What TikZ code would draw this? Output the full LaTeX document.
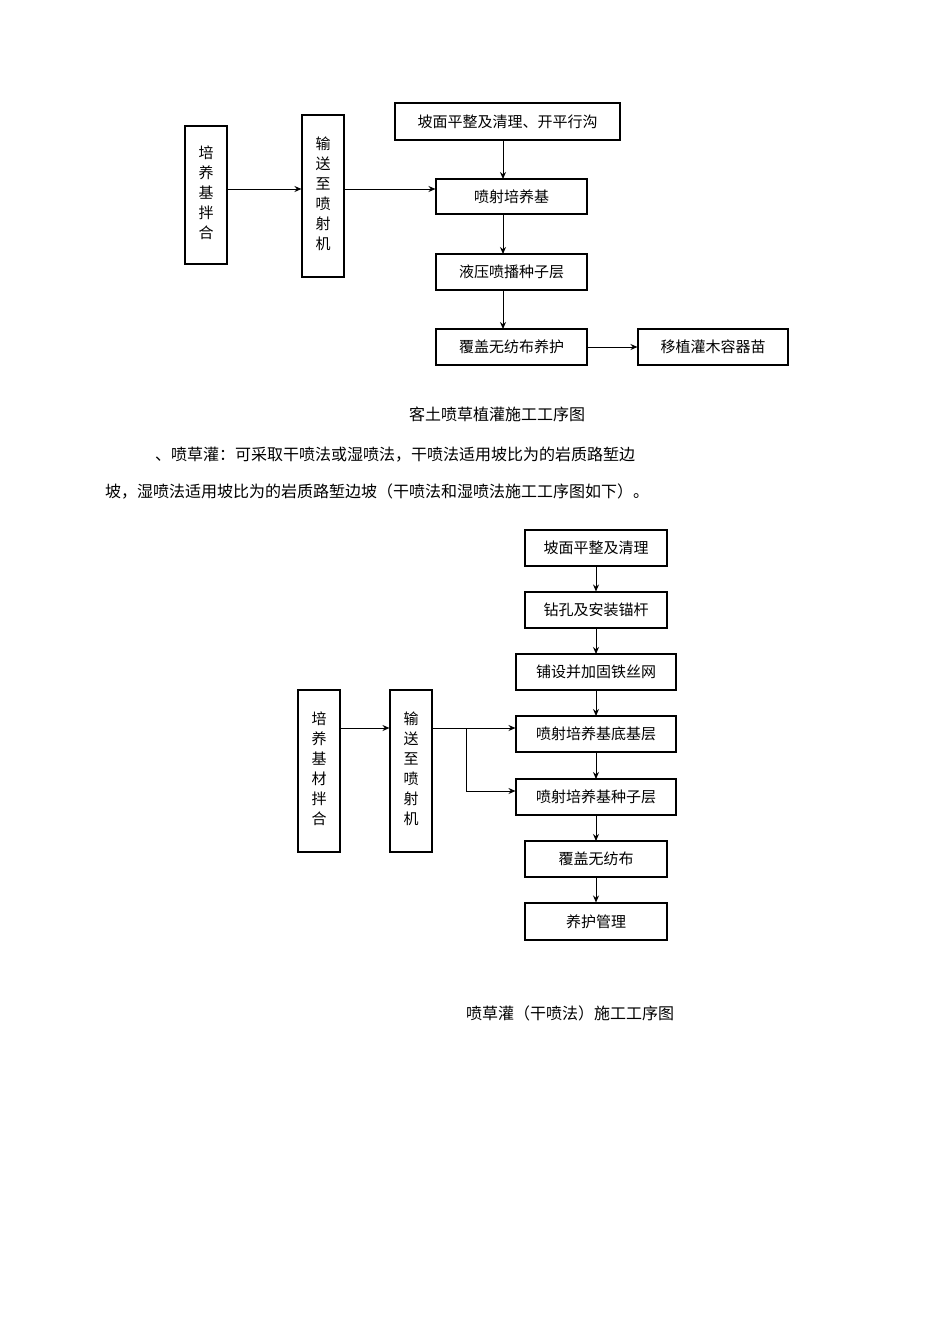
\documentclass[tikz,border=0pt]{standalone}
\usepackage{fontspec}
\setmainfont{Noto Sans CJK SC}
\usetikzlibrary{arrows.meta}
\begin{document}
\begin{tikzpicture}[x=1pt,y=-1pt,
 bx/.style={draw,line width=1.1pt,inner sep=0pt,font=\fontsize{15}{18}\selectfont},
 ar/.style={-{Stealth[length=7pt,width=6pt]},line width=1pt},
 txt/.style={font=\fontsize{16}{19}\selectfont,inner sep=0pt,anchor=west}]
\useasboundingbox[fill=white] (0,0) rectangle (950,1344);
\newcommand{\bxn}[6]{\node[bx,minimum width=#4-#2,minimum height=#5-#3] (#1) at ({(#2+#4)/2},{(#3+#5)/2}) {#6};}
\newcommand{\vt}[1]{\shortstack{#1}}
% top
\bxn{a1}{185}{126}{227}{264}{\begin{tabular}{@{}c@{}}培\\[2pt]养\\[2pt]基\\[2pt]拌\\[2pt]合\end{tabular}}
\bxn{a2}{302}{115}{344}{277}{\begin{tabular}{@{}c@{}}输\\[2pt]送\\[2pt]至\\[2pt]喷\\[2pt]射\\[2pt]机\end{tabular}}
\bxn{b1}{395}{103}{620}{140}{坡面平整及清理、开平行沟}
\bxn{b2}{436}{179}{587}{214}{喷射培养基}
\bxn{b3}{436}{254}{587}{290}{液压喷播种子层}
\bxn{b4}{436}{329}{587}{365}{覆盖无纺布养护}
\bxn{b5}{638}{329}{788}{365}{移植灌木容器苗}
\draw[ar] (a1.east|-0,189) -- (a2.west|-0,189);
\draw[ar] (a2.east|-0,189) -- (b2.west|-0,189);
\draw[ar] (503,140) -- (503,179);
\draw[ar] (503,214) -- (503,254);
\draw[ar] (503,290) -- (503,329);
\draw[ar] (b4) -- (b5);
\node[font=\fontsize{16}{19}\selectfont] (c1) at (497,414) {客土喷草植灌施工工序图};
\node[txt] (p1) at (155,455) {、喷草灌：可采取干喷法或湿喷法，干喷法适用坡比为的岩质路堑边};
\node[txt] (p2) at (105,492) {坡，湿喷法适用坡比为的岩质路堑边坡（干喷法和湿喷法施工工序图如下）。};
% bottom
\bxn{d1}{525}{530}{667}{566}{坡面平整及清理}
\bxn{d2}{525}{592}{667}{628}{钻孔及安装锚杆}
\bxn{d3}{516}{654}{676}{690}{铺设并加固铁丝网}
\bxn{d4}{516}{716}{676}{752}{喷射培养基底基层}
\bxn{d5}{516}{779}{676}{815}{喷射培养基种子层}
\bxn{d6}{525}{841}{667}{877}{覆盖无纺布}
\bxn{d7}{525}{903}{667}{940}{养护管理}
\bxn{e1}{298}{690}{340}{852}{\begin{tabular}{@{}c@{}}培\\[2pt]养\\[2pt]基\\[2pt]材\\[2pt]拌\\[2pt]合\end{tabular}}
\bxn{e2}{390}{690}{432}{852}{\begin{tabular}{@{}c@{}}输\\[2pt]送\\[2pt]至\\[2pt]喷\\[2pt]射\\[2pt]机\end{tabular}}
\draw[ar] (e1.east|-0,728) -- (e2.west|-0,728);
\draw[ar] (e2.east|-0,728) -- (d4.west|-0,728);
\coordinate (j) at (466,728);
\draw[ar] (j) |- (d5.west|-0,791);
\draw[ar] (d1) -- (d2);
\draw[ar] (596,628) -- (596,654);
\draw[ar] (596,690) -- (596,716);
\draw[ar] (596,752) -- (596,779);
\draw[ar] (596,815) -- (596,841);
\draw[ar] (d6) -- (d7);
\node[font=\fontsize{16}{19}\selectfont] (c2) at (570,1013) {喷草灌（干喷法）施工工序图};
\end{tikzpicture}
\end{document}
